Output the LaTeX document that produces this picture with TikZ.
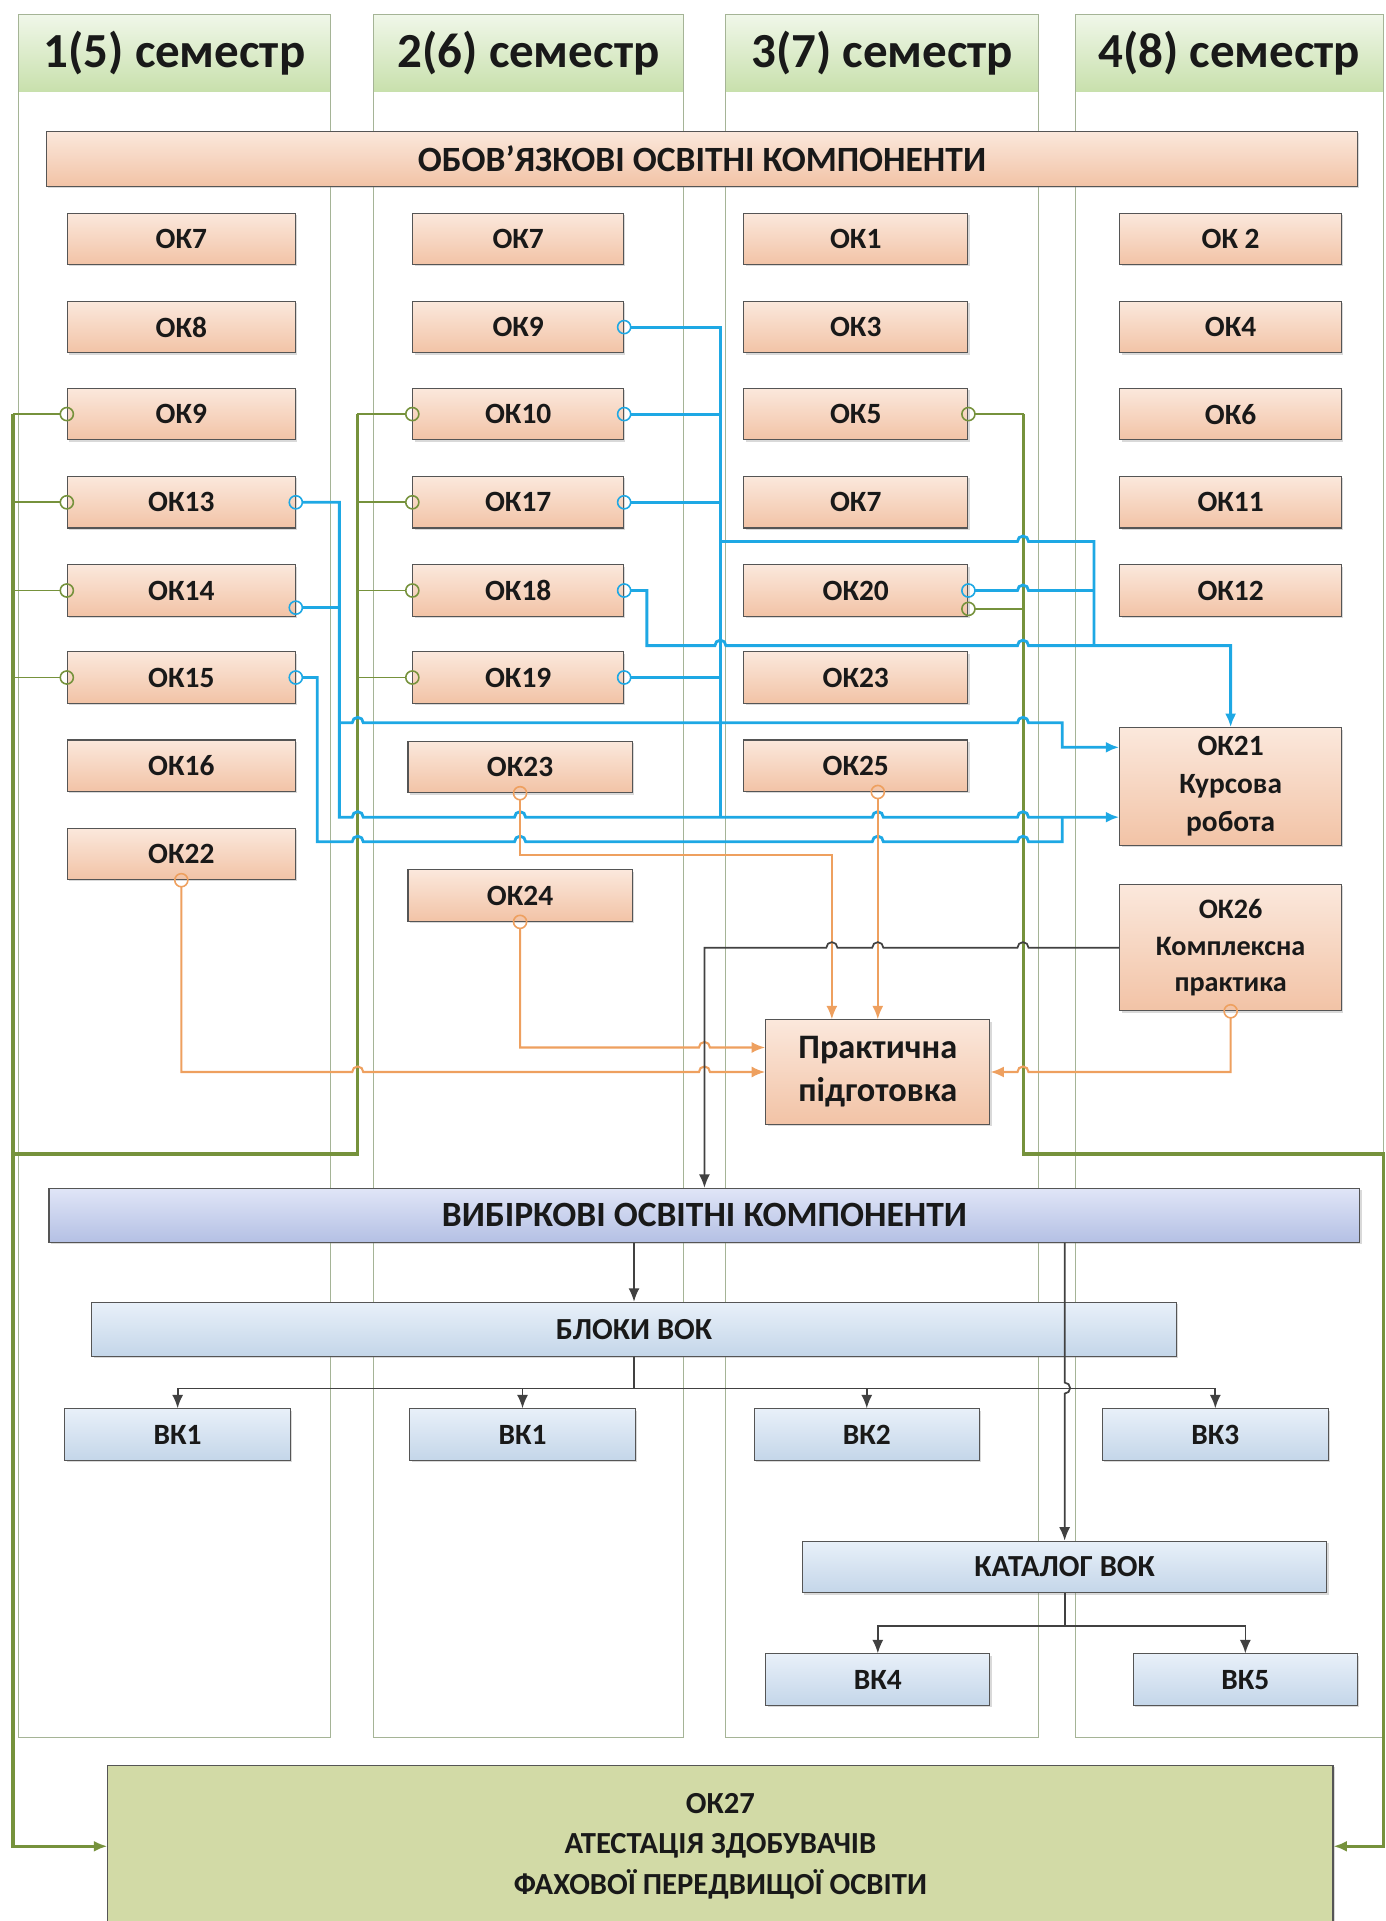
\documentclass[tikz,border=0pt]{standalone}
\usepackage{fontspec}
\setmainfont{Carlito}
\usetikzlibrary{arrows.meta,shadows}

\definecolor{oktop}{RGB}{251,232,220}
\definecolor{okbot}{RGB}{242,195,166}
\definecolor{okline}{RGB}{85,85,85}
\definecolor{vbtop}{RGB}{224,229,247}
\definecolor{vbbot}{RGB}{180,192,228}
\definecolor{bltop}{RGB}{232,240,249}
\definecolor{blbot}{RGB}{196,214,233}
\definecolor{hdtop}{RGB}{240,247,233}
\definecolor{hdbot}{RGB}{200,224,172}
\definecolor{frameline}{RGB}{165,180,150}
\definecolor{grnline}{RGB}{118,146,60}
\definecolor{bluline}{RGB}{30,168,228}
\definecolor{orgline}{RGB}{238,160,95}
\definecolor{drkline}{RGB}{65,65,65}
\definecolor{atfill}{RGB}{210,218,166}

\tikzset{
  box/.style={draw=okline,line width=0.9pt,text=black!90,align=center,inner sep=2pt,
    font=\bfseries\fontsize{24}{31}\selectfont,
    drop shadow={shadow xshift=1.5pt,shadow yshift=-1.5pt,opacity=0.3}},
  ok/.style={box,top color=oktop,bottom color=okbot,minimum height=42pt,minimum width=#1},
  vk/.style={box,top color=bltop,bottom color=blbot,minimum height=42pt,minimum width=#1},
  bar/.style={font=\bfseries\fontsize{29}{32}\selectfont,minimum height=44pt,minimum width=1070pt},
  semhead/.style={top color=hdtop,bottom color=hdbot,minimum height=63pt,minimum width=#1,
    inner sep=0pt,text=black!90,font=\bfseries\fontsize{40}{44}\selectfont},
  frame/.style={draw=frameline,line width=0.8pt},
  grn/.style={draw=grnline,line width=1.4pt},
  grnbus/.style={draw=grnline,line width=2.6pt},
  blu/.style={draw=bluline,line width=2.3pt},
  org/.style={draw=orgline,line width=1.7pt},
  drk/.style={draw=drkline,line width=1.4pt},
  ring/.style={{Circle[open,length=12pt,width=12pt,line width=1.3pt]}-,shorten <=-6pt},
  ringto/.style={{Circle[open,length=12pt,width=12pt,line width=1.3pt]}-{Latex[length=11pt,width=9pt]},shorten <=-6pt},
  arr/.style={-{Latex[length=11pt,width=9pt]}},
  hop/.style={insert path={arc[start angle=180,end angle=360,radius=4.5]}},
  hopl/.style={insert path={arc[start angle=0,end angle=-180,radius=4.5]}},
  vhop/.style={insert path={arc[start angle=-90,end angle=90,radius=4.5]}}
}

\begin{document}
\begin{tikzpicture}[x=1pt,y=-1pt]
  \useasboundingbox (0,0) rectangle (1131,1568);

  % семестри
  \node[semhead=255pt] (sem1) at (142.5,43.5) {1(5) семестр};
  \node[semhead=253pt] (sem2) at (431.5,43.5) {2(6) семестр};
  \node[semhead=256pt] (sem3) at (720,43.5) {3(7) семестр};
  \node[semhead=251pt] (sem4) at (1003.5,43.5) {4(8) семестр};
  \draw[frame] (15,12) rectangle (270,1418);
  \draw[frame] (305,12) rectangle (558,1418);
  \draw[frame] (592,12) rectangle (848,1418);
  \draw[frame] (878,12) rectangle (1129,1418);

  \node[ok=1070pt,bar,minimum height=45pt] (obov) at (573,129.5) {ОБОВ’ЯЗКОВІ ОСВІТНІ КОМПОНЕНТИ};

  % 1(5) семестр
  \node[ok=186pt] (a7) at (148,195) {ОК7};
  \node[ok=186pt] (a8) at (148,267) {ОК8};
  \node[ok=186pt] (a9) at (148,338) {ОК9};
  \node[ok=186pt] (a13) at (148,410) {ОК13};
  \node[ok=186pt] (a14) at (148,482) {ОК14};
  \node[ok=186pt] (a15) at (148,553) {ОК15};
  \node[ok=186pt] (a16) at (148,625) {ОК16};
  \node[ok=186pt] (a22) at (148,697) {ОК22};

  % 2(6) семестр
  \node[ok=172pt] (b7) at (423,195) {ОК7};
  \node[ok=172pt] (b9) at (423,267) {ОК9};
  \node[ok=172pt] (b10) at (423,338) {ОК10};
  \node[ok=172pt] (b17) at (423,410) {ОК17};
  \node[ok=172pt] (b18) at (423,482) {ОК18};
  \node[ok=172pt] (b19) at (423,553) {ОК19};
  \node[ok=183pt] (b23) at (424.5,626) {ОК23};
  \node[ok=183pt] (b24) at (424.5,731) {ОК24};

  % 3(7) семестр
  \node[ok=183pt] (c1) at (698.5,195) {ОК1};
  \node[ok=183pt] (c3) at (698.5,267) {ОК3};
  \node[ok=183pt] (c5) at (698.5,338) {ОК5};
  \node[ok=183pt] (c7) at (698.5,410) {ОК7};
  \node[ok=183pt] (c20) at (698.5,482) {ОК20};
  \node[ok=183pt] (c23) at (698.5,553) {ОК23};
  \node[ok=183pt] (c25) at (698.5,625) {ОК25};

  % 4(8) семестр
  \node[ok=181pt] (d2) at (1004.5,195) {ОК 2};
  \node[ok=181pt] (d4) at (1004.5,267) {ОК4};
  \node[ok=181pt] (d6) at (1004.5,338) {ОК6};
  \node[ok=181pt] (d11) at (1004.5,410) {ОК11};
  \node[ok=181pt] (d12) at (1004.5,482) {ОК12};
  \node[ok=181pt,minimum height=96pt] (d21) at (1004.5,642) {ОК21\\Курсова\\робота};
  \node[ok=181pt,minimum height=103pt,font=\bfseries\fontsize{23}{30}\selectfont] (d26) at (1004.5,773.5) {ОК26\\Комплексна\\практика};

  \node[ok=183pt,minimum height=85pt,font=\bfseries\fontsize{28}{35}\selectfont] (prak) at (716.5,875) {Практична\\підготовка};

  % вибіркові
  \node[box,bar,top color=vbtop,bottom color=vbbot] (vybir) at (575,992) {ВИБІРКОВІ ОСВІТНІ КОМПОНЕНТИ};
  \node[vk=885pt,minimum height=44pt,font=\bfseries\fontsize{25}{30}\selectfont] (bloky) at (517.5,1085) {БЛОКИ ВОК};
  \node[vk=184pt] (vk1a) at (145,1171) {ВК1};
  \node[vk=184pt] (vk1b) at (426.5,1171) {ВК1};
  \node[vk=184pt] (vk2) at (707.5,1171) {ВК2};
  \node[vk=184pt] (vk3) at (992,1171) {ВК3};
  \node[vk=428pt,font=\bfseries\fontsize{25}{30}\selectfont] (katal) at (869,1279) {КАТАЛОГ ВОК};
  \node[vk=183pt] (vk4) at (716.5,1371) {ВК4};
  \node[vk=183pt] (vk5) at (1016.5,1371) {ВК5};

  \node[box,fill=atfill,minimum width=1000pt,minimum height=132pt,font=\bfseries\fontsize{25}{33}\selectfont] (ok27) at (588,1507)
    {ОК27\\АТЕСТАЦІЯ ЗДОБУВАЧІВ\\ФАХОВОЇ ПЕРЕДВИЩОЇ ОСВІТИ};

  \coordinate (gA) at (11,942);
  \coordinate (gB) at (1129,942);
  \coordinate (jA) at (588,442);
  \coordinate (jB) at (277,590);

  % зелені зв'язки
  \draw[grn,ring] (a9.west) -- ++(-44,0);
  \draw[grn,ring] (a13.west) -- ++(-44,0);
  \draw[grn,ring] (a14.west) -- ++(-44,0);
  \draw[grn,ring] (a15.west) -- ++(-44,0);
  \draw[grnbus,arr] ([xshift=-44pt]a9.west) |- (ok27.west);
  \draw[grn,ring] (b10.west) -- ++(-45,0);
  \draw[grn,ring] (b17.west) -- ++(-45,0);
  \draw[grn,ring] (b18.west) -- ++(-45,0);
  \draw[grn,ring] (b19.west) -- ++(-45,0);
  \draw[grnbus] ([xshift=-45pt]b10.west) |- (gA);
  \draw[grn,ring] (c5.east) -- ++(45,0);
  \draw[grn,ring] ([yshift=-15pt]c20.east) -- ++(45,0);
  \draw[grnbus,arr] ([xshift=45pt]c5.east) |- (gB) |- (ok27.east);

  % курсова робота
  \draw[blu,ring] (b9.east) -| (588,667);
  \draw[blu,ring] (b10.east) -- ++(79,0);
  \draw[blu,ring] (b17.east) -- ++(79,0);
  \draw[blu,ring] (b19.east) -- ++(79,0);
  \draw[blu] (jA) -- (830.5,442) [hop] -- (893,442) -- (893,527);
  \draw[blu,ring] (c20.east) -- (830.5,482) [hop] -- (893,482);
  \draw[blu,ringto] (b18.east) -- (528,482) -- (528,527) -- (583.5,527) [hop] -- (830.5,527) [hop] -- (1004.5,527) -- (d21.north);
  \draw[blu,ringto] (a13.east) -- (277,410) -- (277,667) -- (287.5,667) [hop] -- (420,667) [hop] -- (712,667) [hop] -- (830.5,667) [hop] -- ([yshift=-25pt]d21.west);
  \draw[blu,ring] ([yshift=-14pt]a14.east) -- (277,496);
  \draw[blu,arr] (jB) -- (287.5,590) [hop] -- (830.5,590) [hop] -- (867,590) -- (867,610) -- ([yshift=32pt]d21.west);
  \draw[blu,ring] (a15.east) -- (259,553) -- (259,687) -- (287.5,687) [hop] -- (420,687) [hop] -- (712,687) [hop] -- (830.5,687) [hop] -- (867,687) -- (867,667);

  % практична підготовка
  \draw[org,ringto] (a22.south) |- (287.5,875) [hop] -- (570.5,875) [hop] -- (prak.west);
  \draw[org,ringto] (b24.south) |- (570.5,855) [hop] -- ([yshift=20pt]prak.west);
  \draw[org,ringto] (b23.south) |- (679,698) -- ([xshift=-37.5pt]prak.north);
  \draw[org,ringto] (c25.south -| prak.north) -- (prak.north);
  \draw[org,ringto] (d26.south) |- (839.5,875) [hopl] -- (prak.east);

  % вибіркові компоненти
  \draw[drk,arr] (d26.west) -- (839.5,773.5) [hopl] -- (721,773.5) [hopl] -- (683.5,773.5) [hopl] -- (575,773.5) -- (vybir.north);
  \draw[drk,arr] (vybir.south -| bloky.north) -- (bloky.north);
  \draw[drk,arr] (vybir.south -| katal.north) -- (869,1128.5) [vhop] -- (katal.north);
  \draw[drk,arr] (bloky.south) -- ++(0,26) -| (vk1a.north);
  \draw[drk,arr] (bloky.south) -- ++(0,26) -| (vk1b.north);
  \draw[drk,arr] (bloky.south) -- ++(0,26) -| (vk2.north);
  \draw[drk,arr] (bloky.south) -- ++(0,26) -| (vk3.north);
  \draw[drk,arr] (katal.south) -- ++(0,27) -| (vk4.north);
  \draw[drk,arr] (katal.south) -- ++(0,27) -| (vk5.north);
\end{tikzpicture}
\end{document}
